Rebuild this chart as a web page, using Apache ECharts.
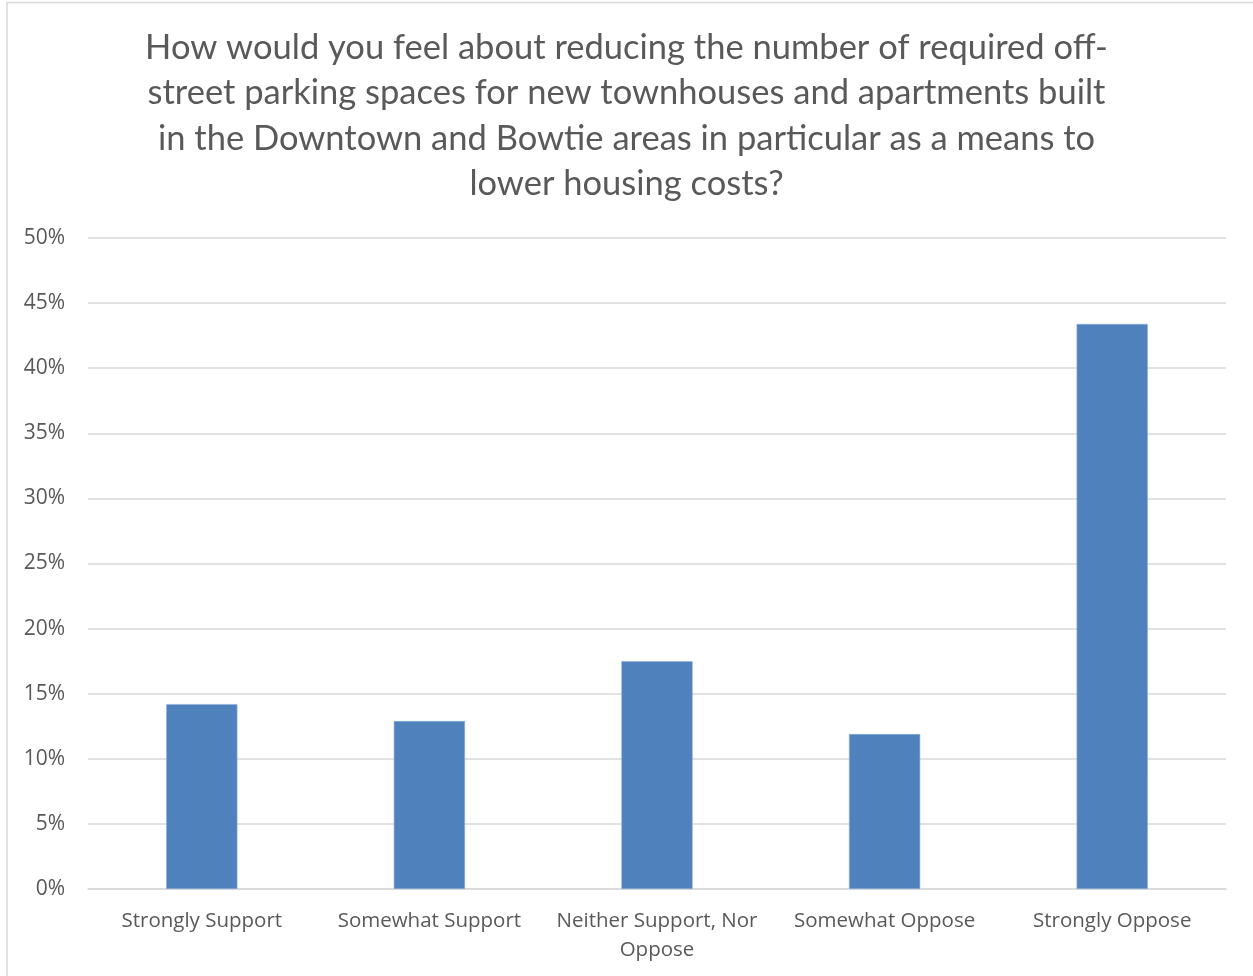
<!DOCTYPE html>
<html>
<head>
<meta charset="utf-8">
<script src="https://cdn.jsdelivr.net/npm/echarts@6/dist/echarts.min.js"></script>
<style>
  html, body { margin: 0; padding: 0; background: #ffffff; }
  #chart { width: 1253px; height: 976px; }
</style>
</head>
<body>
<div id="chart"></div>
<script>
// Survey responses (share of respondents, %)
const categories = [
  'Strongly Support',
  'Somewhat Support',
  'Neither Support, Nor Oppose',
  'Somewhat Oppose',
  'Strongly Oppose'
];
const shares = [14.2, 12.9, 17.5, 11.9, 43.4];

const titleText = 'How would you feel about reducing the number of required off-\n' +
  'street parking spaces for new townhouses and apartments built\n' +
  'in the Downtown and Bowtie areas in particular as a means to\n' +
  'lower housing costs?';

// Category labels that wrap onto a second line
const wrapped = { 'Neither Support, Nor Oppose': 'Neither Support, Nor\nOppose' };

const chart = echarts.init(document.getElementById('chart'), null, { renderer: 'canvas' });

chart.setOption({
  backgroundColor: '#ffffff',
  animation: false,
  title: {
    text: titleText,
    left: 'center',
    top: 20,
    textStyle: {
      fontFamily: 'Lato',
      fontSize: 34.5,
      fontWeight: 'normal',
      color: '#595959',
      lineHeight: 45.5
    }
  },
  graphic: [
    { type: 'line', shape: { x1: 7, y1: 2.5, x2: 1253, y2: 2.5 }, style: { stroke: '#d9d9d9', lineWidth: 1.5 }, silent: true },
    { type: 'line', shape: { x1: 7, y1: 2, x2: 7, y2: 976 }, style: { stroke: '#d9d9d9', lineWidth: 1.5 }, silent: true }
  ],
  grid: { left: 88, right: 27, top: 238, bottom: 87, containLabel: false },
  xAxis: {
    type: 'category',
    data: categories,
    axisLine: { show: true, lineStyle: { color: '#d9d9d9', width: 1.5 } },
    axisTick: { show: false },
    axisLabel: {
      margin: 18,
      interval: 0,
      fontFamily: 'Open Sans',
      fontSize: 20.5,
      color: '#595959',
      lineHeight: 29,
      formatter: v => wrapped[v] || v
    }
  },
  yAxis: {
    type: 'value',
    min: 0,
    max: 50,
    interval: 5,
    axisLine: { show: false },
    axisTick: { show: false },
    splitLine: { lineStyle: { color: '#d9d9d9', width: 1.5 } },
    axisLabel: {
      margin: 23,
      fontFamily: 'Open Sans',
      fontSize: 21,
      color: '#595959',
      formatter: '{value}%'
    }
  },
  series: [{
    type: 'bar',
    data: shares,
    barWidth: '31.3%',
    itemStyle: { color: '#4f81bd', borderColor: '#8fb0dc', borderWidth: 0.6 }
  }]
});
</script>
</body>
</html>
